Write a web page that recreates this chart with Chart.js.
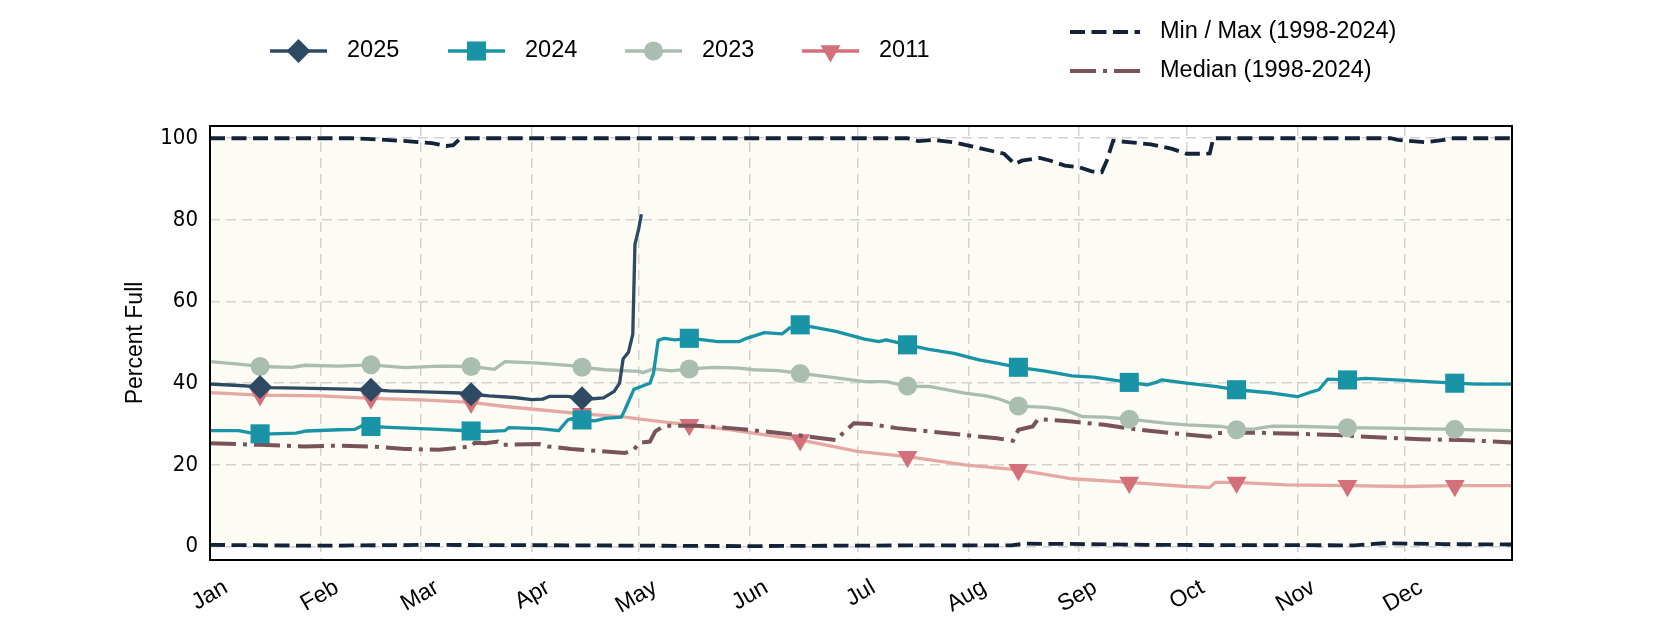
<!DOCTYPE html>
<html>
<head>
<meta charset="utf-8">
<script src="https://cdn.jsdelivr.net/npm/chart.js@4.4.1/dist/chart.umd.min.js"></script>
<style>
  html, body { margin: 0; padding: 0; background: #ffffff; }
  canvas { display: block; }
</style>
</head>
<body>
<canvas id="storageChart" width="1680" height="630"></canvas>
<script>
// month axis (day of year, 0 = Jan 1)
const monthStarts = [0, 31, 59, 90, 120, 151, 181, 212, 243, 273, 304, 334];
const monthNames = ['Jan', 'Feb', 'Mar', 'Apr', 'May', 'Jun', 'Jul', 'Aug', 'Sep', 'Oct', 'Nov', 'Dec'];
const yTicks = [0, 20, 40, 60, 80, 100];
// markers sit on the 15th of every month
const markerDays = [14, 45, 73, 104, 134, 165, 195, 226, 257, 287, 318, 348];

const days2025 = [0, 7, 14, 17, 25, 35, 45, 50, 60, 70, 73, 78, 85, 90, 93, 95, 100, 104, 107, 110, 113, 114.5, 115.5, 117, 118.2, 118.8, 119.8, 120.6];
const pct2025 = [39.8, 39.5, 39.1, 38.9, 38.8, 38.6, 38.4, 38.1, 37.9, 37.6, 37.3, 36.9, 36.5, 36.0, 36.1, 36.8, 36.8, 36.3, 36.2, 36.4, 38.0, 40.0, 46.0, 47.6, 52.0, 74.0, 77.6, 81.4];

const days2024 = [0, 8, 11, 14, 17, 24, 27, 36, 40.5, 42.5, 45, 50, 64, 73, 78, 82.5, 83.5, 92, 97.5, 100,
  101, 104, 107.5, 110.5, 115, 116, 117.5, 118.5, 120, 123, 124, 125.3, 127, 130, 134, 138, 142, 148, 150, 155,
  160, 162, 165, 169, 175, 183, 187, 189, 195, 201, 208, 215, 220, 226, 234, 241, 247, 257, 262, 264.5,
  266, 273, 281, 287, 297, 304, 308, 310, 312.5, 318, 323, 334, 348, 354, 364];
const pct2024 = [28.4, 28.4, 27.9, 27.6, 27.6, 27.8, 28.3, 28.6, 28.7, 29.6, 29.4, 29.2, 28.7, 28.3, 28.2, 28.4, 29.1, 28.9, 28.4, 31.0,
  31.3, 31.0, 30.8, 31.4, 31.7, 33.5, 36.5, 38.5, 39.0, 40.0, 42.5, 50.5, 51.0, 50.6, 51.0, 50.6, 50.2, 50.2, 51.0, 52.4,
  52.1, 53.5, 54.3, 53.7, 52.7, 50.8, 50.2, 50.6, 49.4, 48.3, 47.3, 45.7, 44.9, 43.9, 42.9, 41.8, 41.5, 40.2, 39.6, 40.2,
  40.8, 40.0, 39.2, 38.4, 37.6, 36.7, 37.9, 38.4, 41.0, 40.8, 41.2, 40.7, 40.0, 39.8, 39.8];

const days2023 = [0, 8, 14, 23, 26.5, 36, 45, 54.5, 64, 73, 79.5, 82.5, 92, 101, 104, 110.5, 120, 121, 124, 129,
  134, 141, 148, 152, 159, 165, 173.5, 183, 189, 195, 201, 211, 217, 220, 226, 234, 238.5, 241, 244, 250,
  257, 267, 273, 283, 287, 292, 297, 306, 318, 329, 348, 364];
const pct2023 = [45.3, 44.7, 44.1, 43.9, 44.4, 44.2, 44.5, 43.8, 44.2, 44.1, 43.4, 45.3, 44.9, 44.3, 43.9, 43.3, 42.9, 42.6, 43.5, 43.0,
  43.5, 43.9, 43.7, 43.3, 43.1, 42.4, 41.5, 40.4, 40.4, 39.3, 39.2, 37.6, 36.9, 36.3, 34.4, 34.1, 33.5, 32.8, 31.8, 31.7,
  31.2, 30.2, 29.8, 29.4, 28.6, 28.8, 29.5, 29.4, 29.1, 29.0, 28.7, 28.4];

const days2011 = [0, 14, 31, 45, 59, 73, 82.5, 92, 104, 115, 122, 134, 145.5, 165, 181, 195, 211, 226, 241, 257,
  273, 279.5, 281, 287, 301, 318, 334, 348, 364];
const pct2011 = [37.7, 37.1, 36.9, 36.3, 35.9, 35.3, 34.3, 33.5, 32.5, 31.8, 31.0, 29.8, 28.6, 26.1, 23.3, 22.0, 20.0, 18.8, 16.6, 15.7,
  14.7, 14.5, 15.7, 15.7, 15.1, 14.9, 14.7, 14.9, 14.9];

const daysMedian = [0, 14, 26.5, 36, 45, 54.5, 64, 68.5, 73, 74, 77, 80.5, 81.5, 92, 94.5, 101, 110.5, 116, 118.5, 120,
  123, 124.5, 127, 136, 145.5, 155, 164, 175, 177, 180, 184.5, 192, 201, 211, 220, 224.5, 226, 230, 231.5, 241,
  250, 259, 268.5, 279.5, 281.5, 292, 304, 315, 324.5, 338.5, 352.5, 364];
const pctMedian = [25.3, 24.9, 24.5, 24.7, 24.5, 23.9, 23.7, 24.1, 24.5, 25.4, 25.3, 25.7, 24.9, 25.1, 24.5, 23.9, 23.3, 22.9, 23.7, 25.4,
  25.7, 28.2, 29.6, 29.6, 29.0, 28.2, 27.3, 26.1, 27.8, 30.2, 30.0, 29.0, 28.2, 27.3, 26.5, 25.9, 28.6, 29.4, 31.2, 30.6,
  29.8, 28.7, 27.8, 26.9, 27.8, 27.9, 27.6, 27.3, 26.8, 26.3, 26.0, 25.5];

const daysMax = [0, 40, 45, 55, 62, 66, 68, 70, 195, 198, 202, 208, 213, 218, 222, 225, 227, 232, 235, 239,
  243, 246.5, 249.3, 250.7, 252.5, 257.5, 263, 269, 273, 278, 279.5, 280.5, 330, 332, 340, 345, 347, 364];
const pctMax = [100, 100, 99.8, 99.3, 98.8, 98.1, 98.3, 100, 100, 99.3, 99.6, 99.0, 98.0, 97.0, 96.2, 93.7, 94.5, 95.2, 94.5, 93.3,
  92.9, 91.9, 91.7, 94.5, 99.4, 99.0, 98.5, 97.4, 96.2, 96.2, 96.3, 100, 100, 99.6, 99.0, 99.6, 100, 100];

const daysMin = [0, 30, 60, 100, 150, 200, 224, 228, 245, 262, 320, 328, 345, 364];
const pctMin = [0.4, 0.2, 0.4, 0.3, 0.1, 0.3, 0.3, 0.7, 0.6, 0.4, 0.3, 0.8, 0.6, 0.5];

const TEXT_FONT = "'Liberation Sans', 'DejaVu Sans', sans-serif";
const TICK_FONT = "'Liberation Sans Narrow', 'DejaVu Sans Condensed', sans-serif";

const pts = (xs, ys) => xs.map((x, i) => ({ x: x, y: ys[i] }));
const markerRadius = (r) => (c) => (c.raw && markerDays.includes(c.raw.x)) ? r : 0;

function yearSeries(label, xs, ys, lineColor, markColor, style, r, rot) {
  return {
    label: label,
    data: pts(xs, ys),
    borderColor: lineColor,
    borderWidth: 3.3,
    borderJoinStyle: 'round',
    backgroundColor: markColor,
    pointBackgroundColor: markColor,
    pointBorderColor: markColor,
    pointBorderWidth: 0,
    pointStyle: style,
    pointRotation: rot || 0,
    pointRadius: markerRadius(r),
    pointHoverRadius: markerRadius(r),
    fill: false,
    tension: 0
  };
}

const datasets = [
  yearSeries('2025', days2025, pct2025, '#2d4a62', '#2d4a62', 'rectRot', 12),
  yearSeries('2024', days2024, pct2024, '#1993a6', '#1993a6', 'rect', 13.5),
  yearSeries('2023', days2023, pct2023, '#a9bdb1', '#a9bdb1', 'circle', 9.5),
  {
    label: 'Median (1998-2024)',
    data: pts(daysMedian, pctMedian),
    borderColor: '#7a5259',
    borderWidth: 4,
    borderDash: [26, 7, 4, 7],
    pointRadius: 0,
    fill: false,
    tension: 0
  },
  yearSeries('2011', days2011, pct2011, '#e6a8a2', '#d4707a', 'triangle', 11.5, 180),
  {
    label: 'Max',
    data: pts(daysMax, pctMax),
    borderColor: '#13233a',
    borderWidth: 3.8,
    borderDash: [15, 6.5],
    backgroundColor: '#fcfcf4',
    pointRadius: 0,
    fill: '+1',
    tension: 0
  },
  {
    label: 'Min',
    data: pts(daysMin, pctMin),
    borderColor: '#13233a',
    borderWidth: 3.8,
    borderDash: [15, 6.5],
    pointRadius: 0,
    fill: false,
    tension: 0
  }
];

// black frame round the plot area
const framePlugin = {
  id: 'frame',
  afterDatasetsDraw(chart) {
    const { ctx, chartArea: a } = chart;
    ctx.save();
    ctx.strokeStyle = '#000000';
    ctx.lineWidth = 2;
    ctx.setLineDash([]);
    ctx.strokeRect(a.left, a.top, a.right - a.left, a.bottom - a.top);
    ctx.restore();
  }
};

// two legends: year row on the left, reference lines stacked on the right
const legendPlugin = {
  id: 'twoLegends',
  afterDraw(chart) {
    const ctx = chart.ctx;
    ctx.save();
    ctx.font = '23.5px ' + TEXT_FONT;
    ctx.textBaseline = 'middle';
    ctx.textAlign = 'left';
    const years = [
      { x: 270, text: '2025', line: '#2d4a62', mark: '#2d4a62', style: 'rectRot', r: 12, rot: 0 },
      { x: 448, text: '2024', line: '#1993a6', mark: '#1993a6', style: 'rect', r: 13.5, rot: 0 },
      { x: 625, text: '2023', line: '#a9bdb1', mark: '#a9bdb1', style: 'circle', r: 9.5, rot: 0 },
      { x: 802, text: '2011', line: '#d4707a', mark: '#d4707a', style: 'triangle', r: 11.5, rot: 180 }
    ];
    const rowY = 51;
    years.forEach(it => {
      ctx.setLineDash([]);
      ctx.strokeStyle = it.line;
      ctx.lineWidth = 3.3;
      ctx.beginPath();
      ctx.moveTo(it.x, rowY);
      ctx.lineTo(it.x + 57, rowY);
      ctx.stroke();
      ctx.fillStyle = it.mark;
      Chart.helpers.drawPoint(ctx, { pointStyle: it.style, radius: it.r, rotation: it.rot, borderWidth: 0 }, it.x + 28.5, rowY);
      ctx.fillStyle = '#000000';
      ctx.fillText(it.text, it.x + 77, rowY);
    });

    const refs = [
      { y: 32, text: 'Min / Max (1998-2024)', color: '#13233a', dash: [15, 6.5], w: 3.8 },
      { y: 71, text: 'Median (1998-2024)', color: '#7a5259', dash: [26, 7, 4, 7], w: 4 }
    ];
    refs.forEach(it => {
      ctx.setLineDash(it.dash);
      ctx.strokeStyle = it.color;
      ctx.lineWidth = it.w;
      ctx.beginPath();
      ctx.moveTo(1070, it.y);
      ctx.lineTo(1140, it.y);
      ctx.stroke();
      ctx.setLineDash([]);
      ctx.fillStyle = '#000000';
      ctx.fillText(it.text, 1160, it.y);
    });
    ctx.restore();
  }
};

const ctx = document.getElementById('storageChart').getContext('2d');
const storageChart = new Chart(ctx, {
  type: 'line',
  data: { datasets: datasets },
  options: {
    responsive: false,
    animation: false,
    devicePixelRatio: 1,
    layout: { padding: { left: 0, right: 168, top: 126, bottom: 0 } },
    plugins: {
      legend: { display: false },
      tooltip: { enabled: false },
      filler: { drawTime: 'beforeDraw' }
    },
    scales: {
      x: {
        type: 'linear',
        min: 0,
        max: 364,
        afterBuildTicks: (s) => { s.ticks = monthStarts.map(v => ({ value: v })); },
        afterFit: (s) => { s.height = 70; },
        grid: { color: '#d2d2d2', lineWidth: 1.5, drawTicks: false },
        border: { display: false, dash: [10, 6] },
        ticks: {
          autoSkip: false,
          maxRotation: 30,
          minRotation: 30,
          labelOffset: 16,
          padding: 14,
          color: '#000000',
          font: { family: TEXT_FONT, size: 23 },
          callback: (v) => monthNames[monthStarts.indexOf(v)]
        }
      },
      y: {
        min: -3.3,
        max: 103,
        afterBuildTicks: (s) => { s.ticks = yTicks.map(v => ({ value: v })); },
        afterFit: (s) => { s.width = 210; },
        grid: { color: '#d2d2d2', lineWidth: 1.5, drawTicks: false },
        border: { display: false, dash: [10, 6] },
        ticks: {
          padding: 12,
          color: '#000000',
          font: { family: TICK_FONT, size: 22 }
        },
        title: {
          display: true,
          text: 'Percent Full',
          color: '#000000',
          font: { family: TEXT_FONT, size: 23 },
          padding: { top: 122, bottom: 0 }
        }
      }
    }
  },
  plugins: [framePlugin, legendPlugin]
});
</script>
</body>
</html>
